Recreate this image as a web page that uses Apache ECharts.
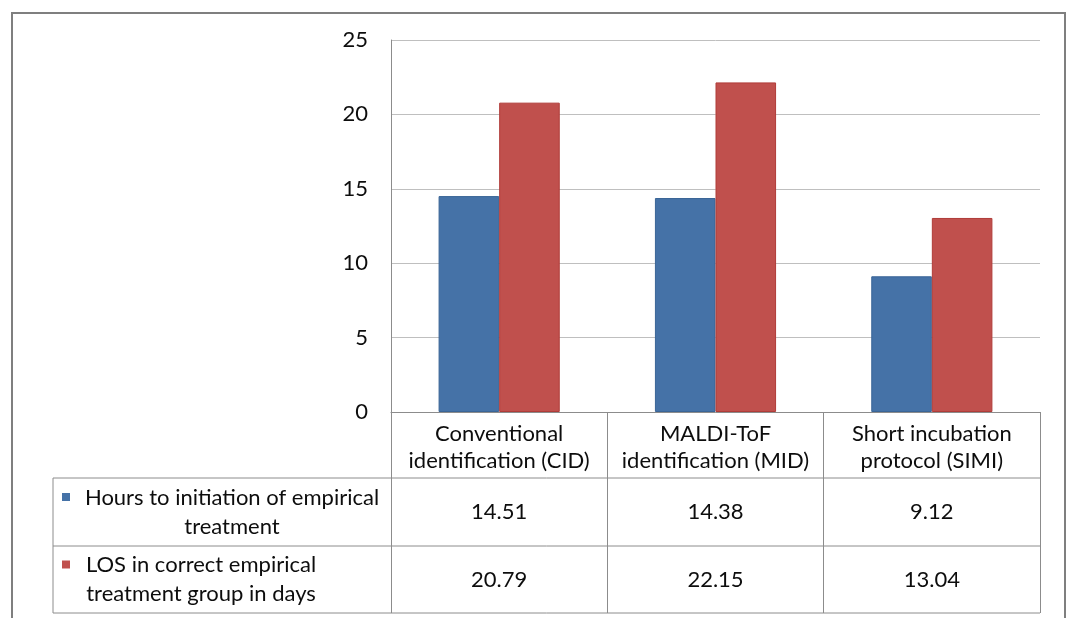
<!DOCTYPE html>
<html><head><meta charset="utf-8">
<script src="https://cdn.jsdelivr.net/npm/echarts@6/dist/echarts.min.js"></script>
<style>html,body{margin:0;padding:0;background:#fff}#c{width:1068px;height:618px}</style>
</head><body><div id="c"></div>
<script>
const categories = ["Conventional\nidentification (CID)", "MALDI-ToF\nidentification (MID)", "Short incubation\nprotocol (SIMI)"];
const seriesNames = ["Hours to initiation of empirical treatment", "LOS in correct empirical treatment group in days"];
const rowLabels = ["Hours to initiation of empirical\ntreatment", "LOS in correct empirical\ntreatment group in days"];
const hours = [14.51, 14.38, 9.12];
const los = [20.79, 22.15, 13.04];
const yTicks = [0, 5, 10, 15, 20, 25];
const colors = ['#4572a7', '#c0504d'];
const borders = ['#3a6597', '#b03c39'];

const FONT = 'Lato';
const TXT = '#0d0d0d';
const LINE = '#8c8c8c';
const chart = echarts.init(document.getElementById('c'));
chart.setOption({
  animation: false,
  textStyle: { fontFamily: FONT },
  grid: { left: 391, right: 28, top: 40, bottom: 206 },
  xAxis: {
    type: 'category', data: categories,
    axisLine: { lineStyle: { color: LINE, width: 1 } },
    axisTick: { show: true, length: 201, interval: 0, lineStyle: { color: LINE } },
    axisLabel: { fontFamily: FONT, fontSize: 22, color: TXT, lineHeight: 27, margin: 8, interval: 0 }
  },
  yAxis: {
    type: 'value', min: yTicks[0], max: yTicks[yTicks.length - 1], interval: yTicks[1] - yTicks[0],
    axisLine: { show: true, lineStyle: { color: LINE } },
    axisTick: { show: false },
    splitLine: { lineStyle: { color: '#bfbfbf', width: 1 } },
    axisLabel: { fontFamily: FONT, fontSize: 22, color: TXT, margin: 23 }
  },
  series: [
    { type: 'bar', name: seriesNames[0], data: hours, barGap: '0%', barCategoryGap: '44%',
      itemStyle: { color: colors[0], borderColor: borders[0], borderWidth: 1 } },
    { type: 'bar', name: seriesNames[1], data: los, barGap: '0%', barCategoryGap: '44%',
      itemStyle: { color: colors[1], borderColor: borders[1], borderWidth: 1 } }
  ]
});

const y0 = chart.convertToPixel({ yAxisIndex: 0 }, 0);
const cx = categories.map((c, i) => chart.convertToPixel({ xAxisIndex: 0 }, i));
const band = cx[1] - cx[0];
const tRight = cx[cx.length - 1] + band / 2;
const tLeft = 53;
const rowTops = [y0 + 66, y0 + 134];
const rowBottom = y0 + 201;
const rowCenters = [(rowTops[0] + rowTops[1]) / 2, (rowTops[1] + rowBottom) / 2];
const labelCx = [232, 201];

const g = [];
g.push({ type: 'rect', shape: { x: 12, y: 13, width: 1053, height: 640 }, style: { fill: null, stroke: '#7f7f7f', lineWidth: 2 }, z: 0, silent: true });
[rowTops[0], rowTops[1], rowBottom].forEach(y => {
  g.push({ type: 'line', shape: { x1: tLeft, y1: y, x2: tRight, y2: y }, style: { stroke: LINE, lineWidth: 1 }, z: 5 });
});
g.push({ type: 'line', shape: { x1: tLeft, y1: rowTops[0], x2: tLeft, y2: rowBottom }, style: { stroke: LINE, lineWidth: 1 }, z: 5 });
const vals = [hours, los];
vals.forEach((arr, r) => {
  arr.forEach((v, i) => {
    g.push({ type: 'text', x: cx[i], y: rowCenters[r], style: { text: v.toFixed(2), fontFamily: FONT, fontSize: 22, fill: TXT, align: 'center', verticalAlign: 'middle' }, z: 6 });
  });
  g.push({ type: 'text', x: labelCx[r], y: rowCenters[r], style: { text: rowLabels[r], fontFamily: FONT, fontSize: 22, lineHeight: 29, fill: TXT, align: 'center', verticalAlign: 'middle' }, z: 6 });
  g.push({ type: 'rect', shape: { x: 62, y: rowCenters[r] - 19, width: 8, height: 8 }, style: { fill: colors[r] }, z: 6 });
});
chart.setOption({ graphic: g });
</script>
</body></html>
